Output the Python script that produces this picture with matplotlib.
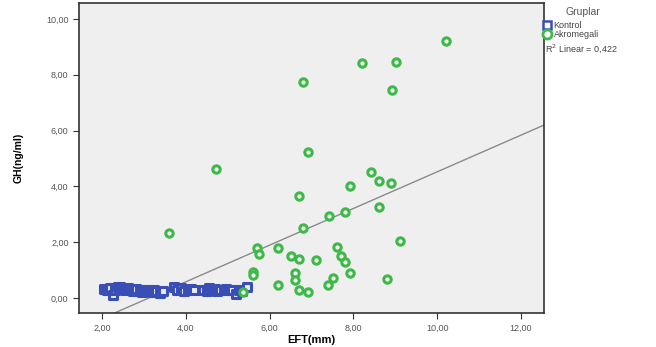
import matplotlib
matplotlib.use("Agg")
import matplotlib.pyplot as plt
from matplotlib.lines import Line2D
import numpy as np

plt.rcParams['font.family'] = ['Liberation Sans', 'DejaVu Sans']

# Kontrol group (EFT mm, GH ng/ml)
kontrol_x = [2.05, 2.12, 2.2, 2.25, 2.3, 2.38, 2.42, 2.5, 2.55, 2.62, 2.7, 2.75, 2.82,
             2.9, 2.95, 3.0, 3.05, 3.12, 3.2, 3.25, 3.3, 3.38, 3.45,
             3.72, 3.8, 3.88, 3.95, 4.05, 4.12, 4.2,
             4.42, 4.5, 4.55, 4.62, 4.7, 4.75, 4.82, 4.9, 4.95, 5.02, 5.1, 5.2,
             5.28, 5.35, 5.45]
kontrol_y = [0.32, 0.28, 0.35, 0.12, 0.30, 0.38, 0.40, 0.33, 0.28, 0.34, 0.30, 0.26,
             0.32, 0.28, 0.22, 0.30, 0.25, 0.30, 0.22, 0.28, 0.26, 0.18, 0.24,
             0.39, 0.30, 0.34, 0.25, 0.29, 0.32, 0.29,
             0.30, 0.26, 0.35, 0.28, 0.32, 0.25, 0.30, 0.27, 0.33, 0.30, 0.28, 0.14,
             0.30, 0.25, 0.39]

# Akromegali group
akro_x = [10.21, 8.21, 9.02, 6.80, 8.92, 6.92, 4.72, 8.42, 8.61, 8.90, 7.92, 6.70,
          8.61, 7.80, 7.42, 6.80, 3.60, 9.11,
          5.70, 5.75, 6.20, 6.51, 6.70, 7.11, 7.61, 7.70, 7.80, 7.92, 5.60, 5.60,
          6.61, 6.61, 6.20, 6.70, 6.92, 7.51, 7.39, 8.80, 5.37]
akro_y = [9.21, 8.42, 8.46, 7.74, 7.46, 5.23, 4.62, 4.52, 4.19, 4.12, 4.01, 3.66,
          3.26, 3.08, 2.94, 2.51, 2.33, 2.04,
          1.79, 1.58, 1.79, 1.50, 1.40, 1.36, 1.83, 1.50, 1.29, 0.90, 0.93, 0.82,
          0.90, 0.65, 0.47, 0.29, 0.22, 0.72, 0.47, 0.68, 0.22]

# Fit line
fit_slope = 0.657
fit_intercept = -2.05
r2_text = "R$^2$ Linear = 0,422"

xticks = [2, 4, 6, 8, 10, 12]
yticks = [0, 2, 4, 6, 8, 10]

blue = '#3a4fb5'
green = '#3fb84a'

fig = plt.figure(figsize=(6.56, 3.47), dpi=100)
ax = fig.add_axes([79/656, 1-313/347, (544-79)/656, (313-3)/347])
ax.set_facecolor('#efefef')

xlim = (1.45, 12.55)
ylim = (-0.54, 10.57)
ax.set_xlim(*xlim)
ax.set_ylim(*ylim)

lx = np.array(xlim)
ax.plot(lx, fit_slope*lx + fit_intercept, color='#8a8a8a', lw=1.0, zorder=2)

ax.scatter(kontrol_x, kontrol_y, marker='s', s=26, facecolors='#e8ecf8',
           edgecolors=blue, linewidths=2.2, zorder=3)
ax.scatter(akro_x, akro_y, marker='o', s=28, facecolors='#f2fbf2',
           edgecolors=green, linewidths=2.2, zorder=4)

ax.set_xticks(xticks)
ax.set_yticks(yticks)
ax.set_xticklabels([f"{v:.2f}".replace('.', ',') for v in xticks])
ax.set_yticklabels([f"{v:.2f}".replace('.', ',') for v in yticks])
ax.tick_params(axis='both', direction='out', length=4, width=0.8, colors='#333333',
               labelcolor='#555555', labelsize=6.5)
for s in ax.spines.values():
    s.set_color('#333333')
    s.set_linewidth(1.2)

ax.set_xlabel('EFT(mm)', fontsize=8, fontweight='bold', labelpad=2)
ax.set_ylabel('GH(ng/ml)', fontsize=7.5, fontweight='bold', labelpad=16)

handles = [
    Line2D([], [], marker='s', linestyle='none', markersize=6, markerfacecolor='white',
           markeredgecolor=blue, markeredgewidth=1.8),
    Line2D([], [], marker='o', linestyle='none', markersize=6.5, markerfacecolor='white',
           markeredgecolor=green, markeredgewidth=2),
]
fig.text(583/656, 1-12/347, 'Gruplar', fontsize=7.5, color='#555555',
         ha='center', va='center')
leg = fig.legend(handles, ['Kontrol', 'Akromegali'],
                 loc='upper left', bbox_to_anchor=(542/656, 1-21/347), frameon=False,
                 fontsize=6.5, handlelength=1.0, handletextpad=0.3,
                 labelspacing=0.0, borderpad=0.0, borderaxespad=0)
for t in leg.get_texts():
    t.set_color('#444444')
fig.text(545/656, 1-49/347, r2_text, fontsize=6.5, color='#444444', va='center', ha='left')

fig.savefig('out.png', dpi=100)
